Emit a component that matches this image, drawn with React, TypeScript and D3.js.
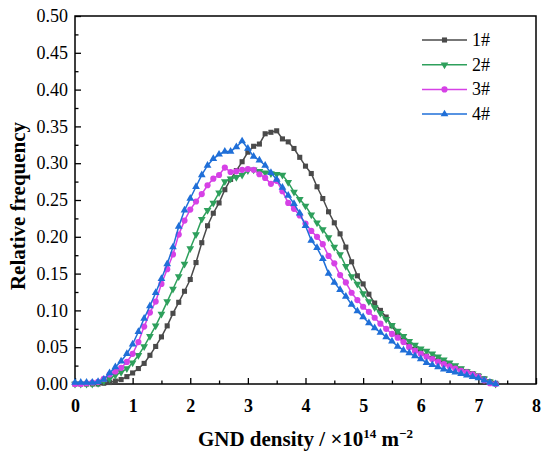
import React, { useEffect, useRef } from 'react';
import * as d3 from 'd3';

// GND density bins (×10^14 m^-2)
const bins = [
  0.0, 0.1, 0.2, 0.3, 0.4, 0.5, 0.6, 0.7, 0.8, 0.9,
  1.0, 1.1, 1.2, 1.3, 1.4, 1.5, 1.6, 1.7, 1.8, 1.9,
  2.0, 2.1, 2.2, 2.3, 2.4, 2.5, 2.6, 2.7, 2.8, 2.9,
  3.0, 3.1, 3.2, 3.3, 3.4, 3.5, 3.6, 3.7, 3.8, 3.9,
  4.0, 4.1, 4.2, 4.3, 4.4, 4.5, 4.6, 4.7, 4.8, 4.9,
  5.0, 5.1, 5.2, 5.3, 5.4, 5.5, 5.6, 5.7, 5.8, 5.9,
  6.0, 6.1, 6.2, 6.3, 6.4, 6.5, 6.6, 6.7, 6.8, 6.9,
  7.0, 7.1, 7.2, 7.3,
];

const sample1 = [
  0, 0, 0, 0, 0, 0.001, 0.002, 0.004, 0.006, 0.010,
  0.015, 0.021, 0.028, 0.039, 0.051, 0.064, 0.079, 0.096, 0.111, 0.126,
  0.142, 0.165, 0.192, 0.215, 0.232, 0.246, 0.264, 0.278, 0.290, 0.302,
  0.315, 0.323, 0.326, 0.340, 0.342, 0.344, 0.333, 0.329, 0.320, 0.308,
  0.296, 0.286, 0.268, 0.252, 0.234, 0.219, 0.204, 0.186, 0.166, 0.147,
  0.136, 0.122, 0.110, 0.100, 0.091, 0.079, 0.067, 0.059, 0.052, 0.047,
  0.044, 0.038, 0.035, 0.032, 0.029, 0.026, 0.023, 0.020, 0.017, 0.014,
  0.011, 0.007, 0.003, 0.001,
];

const sample2 = [
  0, 0, 0, 0, 0.001, 0.004, 0.007, 0.012, 0.016, 0.021,
  0.029, 0.039, 0.051, 0.065, 0.079, 0.095, 0.112, 0.129, 0.146, 0.163,
  0.184, 0.203, 0.224, 0.236, 0.246, 0.260, 0.275, 0.279, 0.281, 0.284,
  0.290, 0.291, 0.289, 0.287, 0.286, 0.285, 0.284, 0.274, 0.261, 0.251,
  0.242, 0.230, 0.219, 0.210, 0.199, 0.186, 0.176, 0.160, 0.146, 0.136,
  0.123, 0.112, 0.104, 0.096, 0.088, 0.080, 0.072, 0.065, 0.058, 0.053,
  0.048, 0.045, 0.041, 0.037, 0.033, 0.029, 0.025, 0.021, 0.017, 0.014,
  0.011, 0.007, 0.003, 0.000,
];

const sample3 = [
  0, 0, 0.001, 0.002, 0.003, 0.007, 0.013, 0.017, 0.022, 0.030,
  0.041, 0.057, 0.078, 0.097, 0.112, 0.136, 0.156, 0.176, 0.203, 0.222,
  0.237, 0.248, 0.258, 0.270, 0.279, 0.284, 0.294, 0.288, 0.289, 0.291,
  0.292, 0.291, 0.285, 0.280, 0.272, 0.276, 0.262, 0.246, 0.238, 0.229,
  0.218, 0.208, 0.200, 0.190, 0.174, 0.164, 0.148, 0.138, 0.124, 0.114,
  0.105, 0.098, 0.090, 0.082, 0.075, 0.068, 0.063, 0.057, 0.050, 0.045,
  0.041, 0.037, 0.034, 0.030, 0.027, 0.024, 0.021, 0.018, 0.016, 0.013,
  0.010, 0.005, 0.001, 0.000,
];

const sample4 = [
  0.002, 0.002, 0.002, 0.002, 0.003, 0.006, 0.015, 0.023, 0.031, 0.041,
  0.054, 0.071, 0.089, 0.106, 0.124, 0.143, 0.163, 0.186, 0.214, 0.236,
  0.252, 0.268, 0.284, 0.297, 0.306, 0.312, 0.316, 0.316, 0.322, 0.330,
  0.320, 0.309, 0.304, 0.297, 0.287, 0.278, 0.267, 0.256, 0.245, 0.232,
  0.215, 0.195, 0.185, 0.170, 0.150, 0.138, 0.128, 0.119, 0.108, 0.099,
  0.091, 0.083, 0.076, 0.070, 0.064, 0.058, 0.051, 0.046, 0.042, 0.038,
  0.034, 0.029, 0.026, 0.023, 0.020, 0.018, 0.016, 0.014, 0.012, 0.010,
  0.008, 0.005, 0.002, 0.000,
];

const seriesNames = ['1#', '2#', '3#', '4#'];
const seriesValues = [sample1, sample2, sample3, sample4];

const xTicks = [0, 1, 2, 3, 4, 5, 6, 7, 8];
const xMinorTicks = [0.5, 1.5, 2.5, 3.5, 4.5, 5.5, 6.5, 7.5];
const yTicks = [0, 0.05, 0.1, 0.15, 0.2, 0.25, 0.3, 0.35, 0.4, 0.45, 0.5];
const yMinorTicks = [0.025, 0.075, 0.125, 0.175, 0.225, 0.275, 0.325, 0.375, 0.425, 0.475];

const colors = ['#4a4a4a', '#2ea05c', '#d641e6', '#1f6fd8'];
const FONT = '"Liberation Serif", "Times New Roman", serif';

export default function App() {
  const svgRef = useRef<SVGSVGElement | null>(null);

  useEffect(() => {
    if (!svgRef.current) return;
    const svg = d3.select(svgRef.current);
    svg.selectAll('*').remove();

    const width = 550;
    const height = 457;
    const margin = { top: 16, right: 14, bottom: 73, left: 75 };
    const w = width - margin.left - margin.right;
    const h = height - margin.top - margin.bottom;

    const g = svg.append('g').attr('transform', `translate(${margin.left},${margin.top})`);

    const x = d3.scaleLinear().domain([0, 8]).range([0, w]);
    const y = d3.scaleLinear().domain([0, 0.5]).range([h, 0]);

    // axes with inward ticks
    const xAxis = g.append('g')
      .attr('transform', `translate(0,${h})`)
      .call(d3.axisBottom(x).tickValues(xTicks).tickFormat(d3.format('d')).tickSizeInner(-6).tickSizeOuter(0).tickPadding(15));
    xAxis.selectAll('text')
      .attr('font-family', FONT).attr('font-size', 18).attr('font-weight', 'bold').attr('fill', '#000');
    g.append('g')
      .attr('transform', `translate(0,${h})`)
      .call(d3.axisBottom(x).tickValues(xMinorTicks).tickFormat(() => '').tickSizeInner(-3.5).tickSizeOuter(0));

    const yAxis = g.append('g')
      .call(d3.axisLeft(y).tickValues(yTicks).tickFormat(d3.format('.2f')).tickSizeInner(-6).tickSizeOuter(0).tickPadding(7));
    yAxis.selectAll('text')
      .attr('font-family', FONT).attr('font-size', 18).attr('fill', '#000');
    g.append('g')
      .call(d3.axisLeft(y).tickValues(yMinorTicks).tickFormat(() => '').tickSizeInner(-3.5).tickSizeOuter(0));

    g.selectAll('.domain').remove();
    g.selectAll('.tick line').attr('stroke', '#000').attr('stroke-width', 1.3);

    // frame
    g.append('rect')
      .attr('width', w).attr('height', h)
      .attr('fill', 'none').attr('stroke', '#000').attr('stroke-width', 1.5);

    const symbols = [d3.symbolSquare, d3.symbolTriangle, d3.symbolCircle, d3.symbolTriangle];
    const sizes = [26, 26, 30, 26];
    const rotations = [0, 180, 0, 0];

    const line = d3.line<number>()
      .x((_, i) => x(bins[i]))
      .y(d => y(d));

    seriesValues.forEach((vals, si) => {
      g.append('path')
        .datum(vals)
        .attr('fill', 'none')
        .attr('stroke', colors[si])
        .attr('stroke-width', 1.5)
        .attr('d', line);

      const sym = d3.symbol().type(symbols[si]).size(sizes[si]);
      g.append('g').selectAll('path')
        .data(vals)
        .join('path')
        .attr('d', sym)
        .attr('fill', colors[si])
        .attr('transform', (d, i) => `translate(${x(bins[i])},${y(d)}) rotate(${rotations[si]})`);
    });

    // legend
    const legend = svg.append('g').attr('transform', 'translate(422,40)');
    seriesNames.forEach((name, si) => {
      const row = legend.append('g').attr('transform', `translate(0,${si * 24.7})`);
      row.append('line')
        .attr('x1', 0).attr('x2', 45)
        .attr('stroke', colors[si]).attr('stroke-width', 1.5);
      row.append('path')
        .attr('d', d3.symbol().type(symbols[si]).size(sizes[si])())
        .attr('fill', colors[si])
        .attr('transform', `translate(22.5,0) rotate(${rotations[si]})`);
      row.append('text')
        .attr('x', 50).attr('y', 6)
        .attr('font-family', FONT).attr('font-size', 18).attr('fill', '#000')
        .text(name);
    });

    // axis titles
    const xTitle = svg.append('text')
      .attr('x', margin.left + w / 2).attr('y', 446)
      .attr('text-anchor', 'middle')
      .attr('font-family', FONT).attr('font-size', 21).attr('font-weight', 'bold').attr('fill', '#000');
    xTitle.append('tspan').text('GND density / ×10');
    xTitle.append('tspan').attr('font-size', 13).attr('dy', -8).text('14');
    xTitle.append('tspan').attr('dy', 8).text(' m');
    xTitle.append('tspan').attr('font-size', 13).attr('dy', -8).text('−2');

    svg.append('text')
      .attr('transform', `translate(25,${margin.top + h / 2 + 6}) rotate(-90)`)
      .attr('text-anchor', 'middle')
      .attr('font-family', FONT).attr('font-size', 21).attr('font-weight', 'bold').attr('fill', '#000')
      .text('Relative frequency');
  }, []);

  return (
    <svg
      ref={svgRef}
      width={550}
      height={457}
      style={{ position: 'absolute', left: 0, top: 0, background: '#fff' }}
    />
  );
}
